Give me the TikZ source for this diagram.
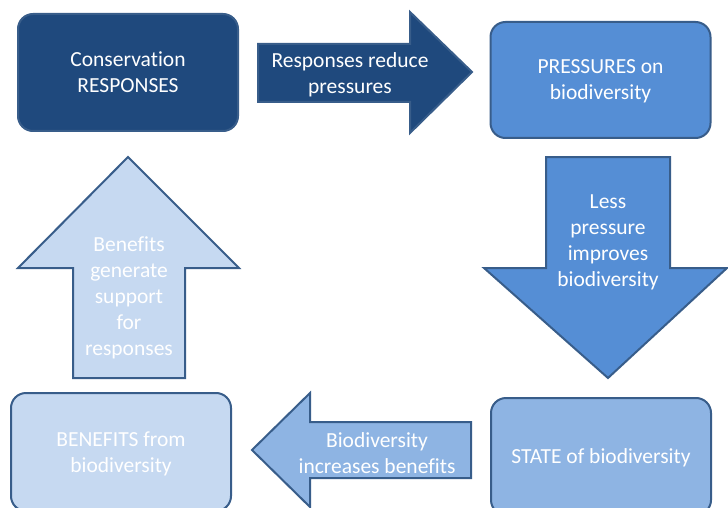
\documentclass[tikz,border=0pt]{standalone}
\usepackage{fontspec}
\setmainfont[Ligatures=NoCommon]{Carlito}
\usetikzlibrary{positioning}

\definecolor{navy}{HTML}{1F497D}
\definecolor{midblue}{HTML}{558ED5}
\definecolor{paleblue}{HTML}{8EB4E3}
\definecolor{iceblue}{HTML}{C6D9F1}
\definecolor{edge}{HTML}{385D8A}

\tikzset{
  stage/.style = {draw = edge, line width = 2pt, rounded corners = 15pt, minimum width = 220pt, align = center, text = white, text depth = 0pt, font = \fontsize{21.5}{26}\selectfont},
  blockarrow/.style = {draw = edge, line width = 2pt, line join = miter},
  lbl/.style = {align = center, text = white, text depth = 0pt, font = \fontsize{21.5}{26}\selectfont}
}

\begin{document}
\begin{tikzpicture} [x = 1pt, y = -1pt]
\useasboundingbox (0,0) rectangle (728,508);
\clip (0,0) rectangle (728,508);
\fill[white] (0,0) rectangle (728,508);

% the four stages
\node[stage, fill = navy, minimum height = 117pt] (resp) at (128,72.5) {Conservation\\RESPONSES};
\node[stage, fill = midblue, minimum height = 116pt] (press) at (600.5,80) {PRESSURES on\\biodiversity};
\node[stage, fill = paleblue, minimum height = 117pt] (state) at (601,456.5) {STATE of biodiversity};
\node[stage, fill = iceblue, minimum height = 118pt] (bene) at (121,452) {BENEFITS from\\biodiversity};

% block arrows between them
\draw[blockarrow, fill = navy] (258,44) -- (410,44) -- (410,12) -- (472,72) -- (410,133) -- (410,102) -- (258,102) -- cycle;
\node[lbl] (reduce) at (350,73) {Responses reduce\\pressures};

\draw[blockarrow, fill = midblue] (546,157) -- (670,157) -- (670,268) -- (727,268) -- (608,378) -- (484,268) -- (546,268) -- cycle;
\node[lbl] (improve) at (608,241) {Less\\pressure\\improves\\biodiversity};

\draw[blockarrow, fill = paleblue] (471,422) -- (310,422) -- (310,393) -- (252,450) -- (310,507) -- (310,478) -- (471,478) -- cycle;
\node[lbl] (increase) at (377,453.5) {Biodiversity\\increases benefits};

\draw[blockarrow, fill = iceblue] (73,378) -- (73,268) -- (18,268) -- (128,157) -- (239,268) -- (185,268) -- (185,378) -- cycle;
\node[lbl] (support) at (129,296) {Benefits\\generate\\support\\for\\responses};
\end{tikzpicture}
\end{document}
